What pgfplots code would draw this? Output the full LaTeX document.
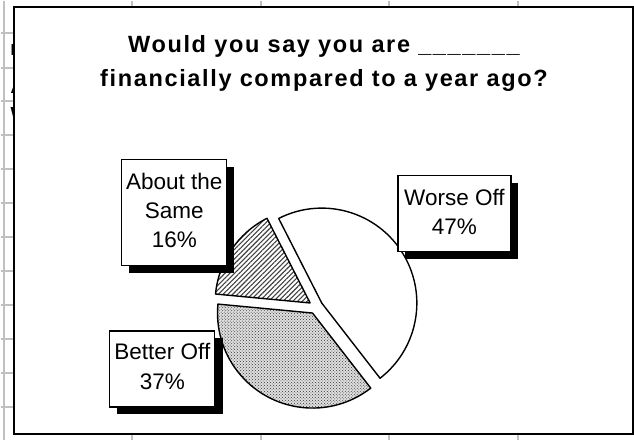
\documentclass[border=0pt]{standalone}
\usepackage{fontspec}
\setmainfont{Liberation Sans}
\newfontfamily\titlefont{Liberation Sans}[LetterSpace=7]
\usepackage{pgfplots}
\pgfplotsset{compat=1.18}
\usetikzlibrary{patterns,patterns.meta}
\definecolor{gridc}{RGB}{192,192,192}
\newcommand\labelfont{\fontsize{22.5bp}{26bp}\selectfont}
\newcommand\ttfont{\titlefont\bfseries\fontsize{23.5bp}{27bp}\selectfont}
\begin{document}
\begin{tikzpicture}
% data (percent)
\def\vW{47}\def\vB{37}\def\vS{16}
\pgfmathsetmacro\aA{117}
\pgfmathsetmacro\aB{\aA-3.6*\vW}
\pgfmathsetmacro\aC{\aB-3.6*\vB}
\pgfmathsetmacro\aD{\aC-3.6*\vS}
\pgfmathsetmacro\mW{(\aA+\aB)/2}
\pgfmathsetmacro\mB{(\aB+\aC)/2}
\pgfmathsetmacro\mS{(\aC+\aD)/2}
\def\cx{315}\def\cy{306}\def\dd{7}\def\R{95bp}
\begin{axis}[at={(0,0)},anchor=south west,scale only axis,
  width=634bp,height=439bp,xmin=0,xmax=634,ymin=0,ymax=439,
  y dir=reverse,axis lines=none,clip=false]
% spreadsheet grid behind chart
\pgfplotsinvokeforeach{3,131,260,388,517}{
  \draw[gridc,line width=1.6bp] (axis cs:#1,0) -- (axis cs:#1,439);}
\pgfplotsinvokeforeach{32,67,100,134,168,202,236,270,304,338,372,406}{
  \draw[gridc,line width=1.6bp] (axis cs:0,#1) -- (axis cs:14,#1);}
\node[anchor=base west,inner sep=0,font=\bfseries\fontsize{16bp}{18bp}\selectfont] at (axis cs:9.5,55) {B};
\node[anchor=base west,inner sep=0,font=\bfseries\fontsize{16bp}{18bp}\selectfont] at (axis cs:9.5,93) {A};
\node[anchor=base west,inner sep=0,font=\bfseries\fontsize{16bp}{18bp}\selectfont] at (axis cs:9.5,118) {W};
% chart area
\draw[fill=white,line width=2bp] (axis cs:13,6) rectangle (axis cs:632,433);
% title
\node[anchor=base,inner sep=0,font=\ttfont] at (axis cs:323,52) {Would you say you are \_\_\_\_\_\_\_};
\node[anchor=base,inner sep=0,font=\ttfont] at (axis cs:323,86) {financially compared to a year ago?};
% pie slices
\draw[fill=white,line width=1.4bp,line join=round]
  (axis cs:{\cx+\dd*cos(\mW)},{\cy-\dd*sin(\mW)}) -- ++(\aA:\R) arc[start angle=\aA,end angle=\aB,radius=\R] -- cycle;
\fill[gray!25]
  (axis cs:{\cx+\dd*cos(\mB)},{\cy-\dd*sin(\mB)}) -- ++(\aB:\R) arc[start angle=\aB,end angle=\aC,radius=\R] -- cycle;
\draw[pattern=crosshatch dots,pattern color=black!80,line width=1.4bp,line join=round]
  (axis cs:{\cx+\dd*cos(\mB)},{\cy-\dd*sin(\mB)}) -- ++(\aB:\R) arc[start angle=\aB,end angle=\aC,radius=\R] -- cycle;
\draw[pattern={Lines[angle=45,distance=3.4pt,line width=1.1pt]},pattern color=black!75,line width=1.4bp,line join=round]
  (axis cs:{\cx+\dd*cos(\mS)},{\cy-\dd*sin(\mS)}) -- ++(\aC:\R) arc[start angle=\aC,end angle=\aD,radius=\R] -- cycle;
% labels with shadows
\fill[black] (axis cs:128,166) rectangle (axis cs:233,272);
\draw[fill=white,line width=1.2bp] (axis cs:121,159) rectangle (axis cs:226,265);
\node[anchor=base,inner sep=0,font=\labelfont] at (axis cs:173.5,189) {About the};
\node[anchor=base,inner sep=0,font=\labelfont] at (axis cs:173.5,218) {Same};
\node[anchor=base,inner sep=0,font=\labelfont] at (axis cs:173.5,247) {16\%};
\fill[black] (axis cs:404,182) rectangle (axis cs:517,258);
\draw[fill=white,line width=1.2bp] (axis cs:397,175) rectangle (axis cs:510,251);
\node[anchor=base,inner sep=0,font=\labelfont] at (axis cs:453.5,205) {Worse Off};
\node[anchor=base,inner sep=0,font=\labelfont] at (axis cs:453.5,234) {47\%};
\fill[black] (axis cs:116,337) rectangle (axis cs:222,413);
\draw[fill=white,line width=1.2bp] (axis cs:109,330) rectangle (axis cs:214,406);
\node[anchor=base,inner sep=0,font=\labelfont] at (axis cs:161.5,359) {Better Off};
\node[anchor=base,inner sep=0,font=\labelfont] at (axis cs:161.5,389) {37\%};
\end{axis}
\end{tikzpicture}
\end{document}
